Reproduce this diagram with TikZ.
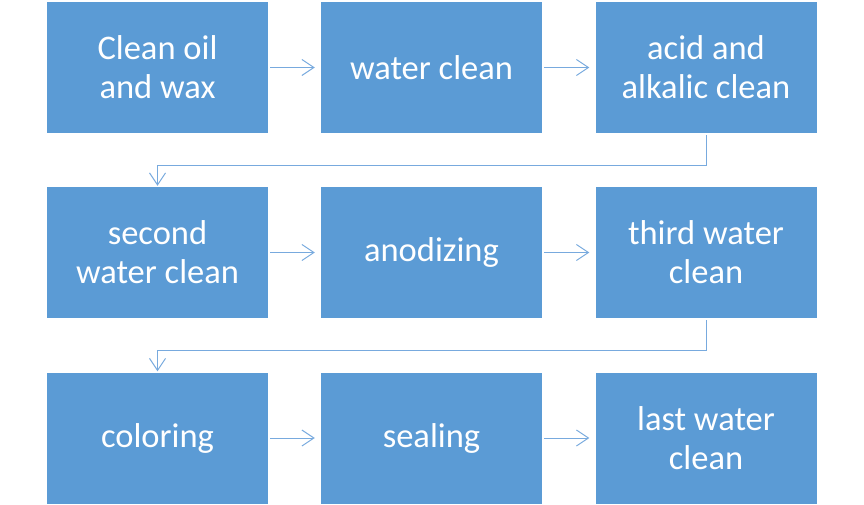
\documentclass[tikz,border=0pt]{standalone}
\usepackage{fontspec}
\setmainfont{Carlito}
\usetikzlibrary{arrows.meta}
\definecolor{boxblue}{HTML}{5B9BD5}
\definecolor{arrblue}{RGB}{120,170,222}
\tikzset{
  stepbox/.style={fill=boxblue, draw=none, minimum width=221pt, minimum height=131pt,
    inner sep=0pt, text=white, align=center, font=\fontsize{34.5}{39}\selectfont},
  flow/.style={draw=arrblue, line width=1pt, -{Straight Barb[length=12pt,width=16pt,line width=1pt]}, shorten <=2pt, shorten >=6pt}
}
\begin{document}
\begin{tikzpicture}[x=1pt,y=-1pt]
\useasboundingbox (0,0) rectangle (864,505);
\node[stepbox] (a) at (157.5,67.5) {Clean oil\\and wax};
\node[stepbox] (b) at (431.5,67.5) {water clean};
\node[stepbox] (c) at (706,67.5) {acid and\\alkalic clean};
\node[stepbox] (d) at (157.5,252.5) {second\\water clean};
\node[stepbox] (e) at (431.5,252.5) {anodizing};
\node[stepbox] (f) at (706,252.5) {third water\\clean};
\node[stepbox] (g) at (157.5,438) {coloring};
\node[stepbox] (h) at (431.5,438) {sealing};
\node[stepbox] (i) at (706,438) {last water\\clean};
\draw[flow] (a) -- (b);
\draw[flow] (b) -- (c);
\draw[flow] (d) -- (e);
\draw[flow] (e) -- (f);
\draw[flow] (g) -- (h);
\draw[flow] (h) -- (i);
\draw[flow, shorten >=1pt] (c.south) -- ++(0,32) -| (d.north);
\draw[flow, shorten >=1pt] (f.south) -- ++(0,32) -| (g.north);
\end{tikzpicture}
\end{document}
